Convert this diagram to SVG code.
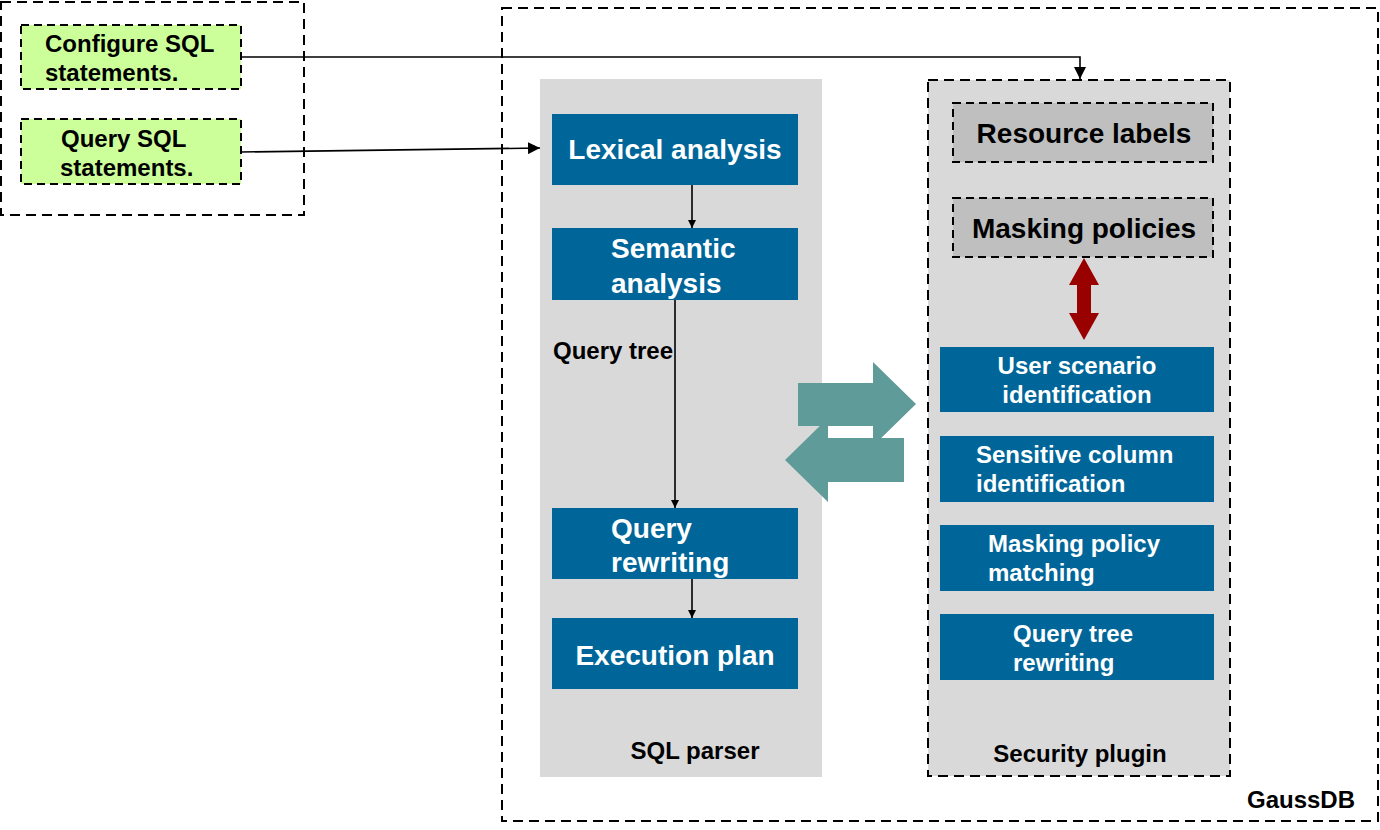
<svg xmlns="http://www.w3.org/2000/svg" width="1380" height="830" viewBox="0 0 1380 830">
<defs>
<style>
text{font-family:"Liberation Sans",Arial,sans-serif;font-weight:bold}
.dash{fill:none;stroke:#000;stroke-width:2;stroke-dasharray:10,6}
.blue{fill:#006699}
.wt{fill:#fff}
.bt{fill:#000}
.conn{fill:none;stroke:#000;stroke-width:1.6}
</style>
<marker id="ah" viewBox="0 0 10 10" refX="10" refY="5" markerWidth="8" markerHeight="8" markerUnits="userSpaceOnUse" orient="auto"><path d="M0,0 L10,5 L0,10 z" fill="#000"/></marker>
<marker id="ah2" viewBox="0 0 10 10" refX="10" refY="5" markerWidth="12" markerHeight="12" markerUnits="userSpaceOnUse" orient="auto"><path d="M0,0 L10,5 L0,10 z" fill="#000"/></marker>
</defs>
<rect width="1380" height="830" fill="#fff"/>
<g id="client">
<rect class="dash" x="1" y="2" width="303" height="213"/>
</g>
<g id="gaussdb">
<rect class="dash" x="502" y="8" width="876" height="813"/>
<text x="1247" y="808" font-size="24" class="bt">GaussDB</text>
</g>
<g id="sql-parser">
<rect x="540" y="79" width="282" height="698" fill="#d9d9d9"/>
<text x="695" y="759" font-size="24" class="bt" text-anchor="middle">SQL parser</text>
</g>
<g id="security-plugin">
<rect x="928" y="80" width="302" height="696" fill="#d9d9d9" stroke="#000" stroke-width="2" stroke-dasharray="10,6"/>
<text x="1080" y="762" font-size="24" class="bt" text-anchor="middle">Security plugin</text>
</g>
<g id="configure-sql">
<rect x="21" y="25" width="220" height="64" fill="#ccff99" stroke="#000" stroke-width="2" stroke-dasharray="8,5"/>
<text font-size="24" class="bt"><tspan x="45" y="52">Configure SQL</tspan><tspan x="45" y="81">statements.</tspan></text>
</g>
<g id="query-sql">
<rect x="21" y="119" width="220" height="65" fill="#ccff99" stroke="#000" stroke-width="2" stroke-dasharray="8,5"/>
<text font-size="24" class="bt"><tspan x="61" y="147">Query SQL</tspan><tspan x="60" y="176">statements.</tspan></text>
</g>
<g id="lexical">
<rect class="blue" x="552" y="114" width="246" height="71"/>
<text x="675" y="159" font-size="28" class="wt" text-anchor="middle">Lexical analysis</text>
</g>
<g id="semantic">
<rect class="blue" x="552" y="228" width="246" height="72"/>
<text font-size="28" class="wt"><tspan x="611" y="258">Semantic</tspan><tspan x="611" y="293">analysis</tspan></text>
</g>
<g id="query-tree-label">
<text x="553" y="359" font-size="24" class="bt">Query tree</text>
</g>
<g id="rewriting">
<rect class="blue" x="552" y="508" width="246" height="71"/>
<text font-size="28" class="wt"><tspan x="611" y="538">Query</tspan><tspan x="611" y="572">rewriting</tspan></text>
</g>
<g id="execution">
<rect class="blue" x="552" y="618" width="246" height="71"/>
<text x="675" y="665" font-size="28" class="wt" text-anchor="middle">Execution plan</text>
</g>
<g id="resource-labels">
<rect x="953" y="103" width="260" height="59" fill="#bfbfbf" stroke="#000" stroke-width="2" stroke-dasharray="8,5"/>
<text x="1084" y="143" font-size="28" class="bt" text-anchor="middle">Resource labels</text>
</g>
<g id="masking-policies">
<rect x="953" y="198" width="260" height="59" fill="#bfbfbf" stroke="#000" stroke-width="2" stroke-dasharray="8,5"/>
<text x="1084" y="238" font-size="28" class="bt" text-anchor="middle">Masking policies</text>
</g>
<g id="user-scenario">
<rect class="blue" x="940" y="347" width="274" height="65"/>
<text font-size="24" class="wt" text-anchor="middle"><tspan x="1077" y="374">User scenario</tspan><tspan x="1077" y="403">identification</tspan></text>
</g>
<g id="sensitive-column">
<rect class="blue" x="940" y="436" width="274" height="66"/>
<text font-size="24" class="wt"><tspan x="976" y="463">Sensitive column</tspan><tspan x="976" y="492">identification</tspan></text>
</g>
<g id="policy-matching">
<rect class="blue" x="940" y="525" width="274" height="66"/>
<text font-size="24" class="wt"><tspan x="988" y="552">Masking policy</tspan><tspan x="988" y="581">matching</tspan></text>
</g>
<g id="tree-rewriting">
<rect class="blue" x="940" y="614" width="274" height="66"/>
<text font-size="24" class="wt"><tspan x="1013" y="642">Query tree</tspan><tspan x="1013" y="671">rewriting</tspan></text>
</g>
<g id="connectors">
<polyline class="conn" points="241,57 1080,57 1080,79" marker-end="url(#ah2)"/>
<line class="conn" x1="241" y1="152" x2="540" y2="148" marker-end="url(#ah2)"/>
<line class="conn" x1="692" y1="185" x2="692" y2="228" marker-end="url(#ah)"/>
<line class="conn" x1="675" y1="300" x2="675" y2="508" marker-end="url(#ah)"/>
<line class="conn" x1="692" y1="579" x2="692" y2="618" marker-end="url(#ah)"/>
<path d="M1084,258 L1099,285 L1091,285 L1091,313 L1099,313 L1084,340 L1069,313 L1077,313 L1077,285 L1069,285 Z" fill="#990000"/>
<path d="M798,383 L873,383 L873,362 L916,404 L873,446 L873,426 L798,426 Z" fill="#5f9b99"/>
<path d="M904,438 L828,438 L828,418 L785,460 L828,502 L828,482 L904,482 Z" fill="#5f9b99"/>
</g>
</svg>
